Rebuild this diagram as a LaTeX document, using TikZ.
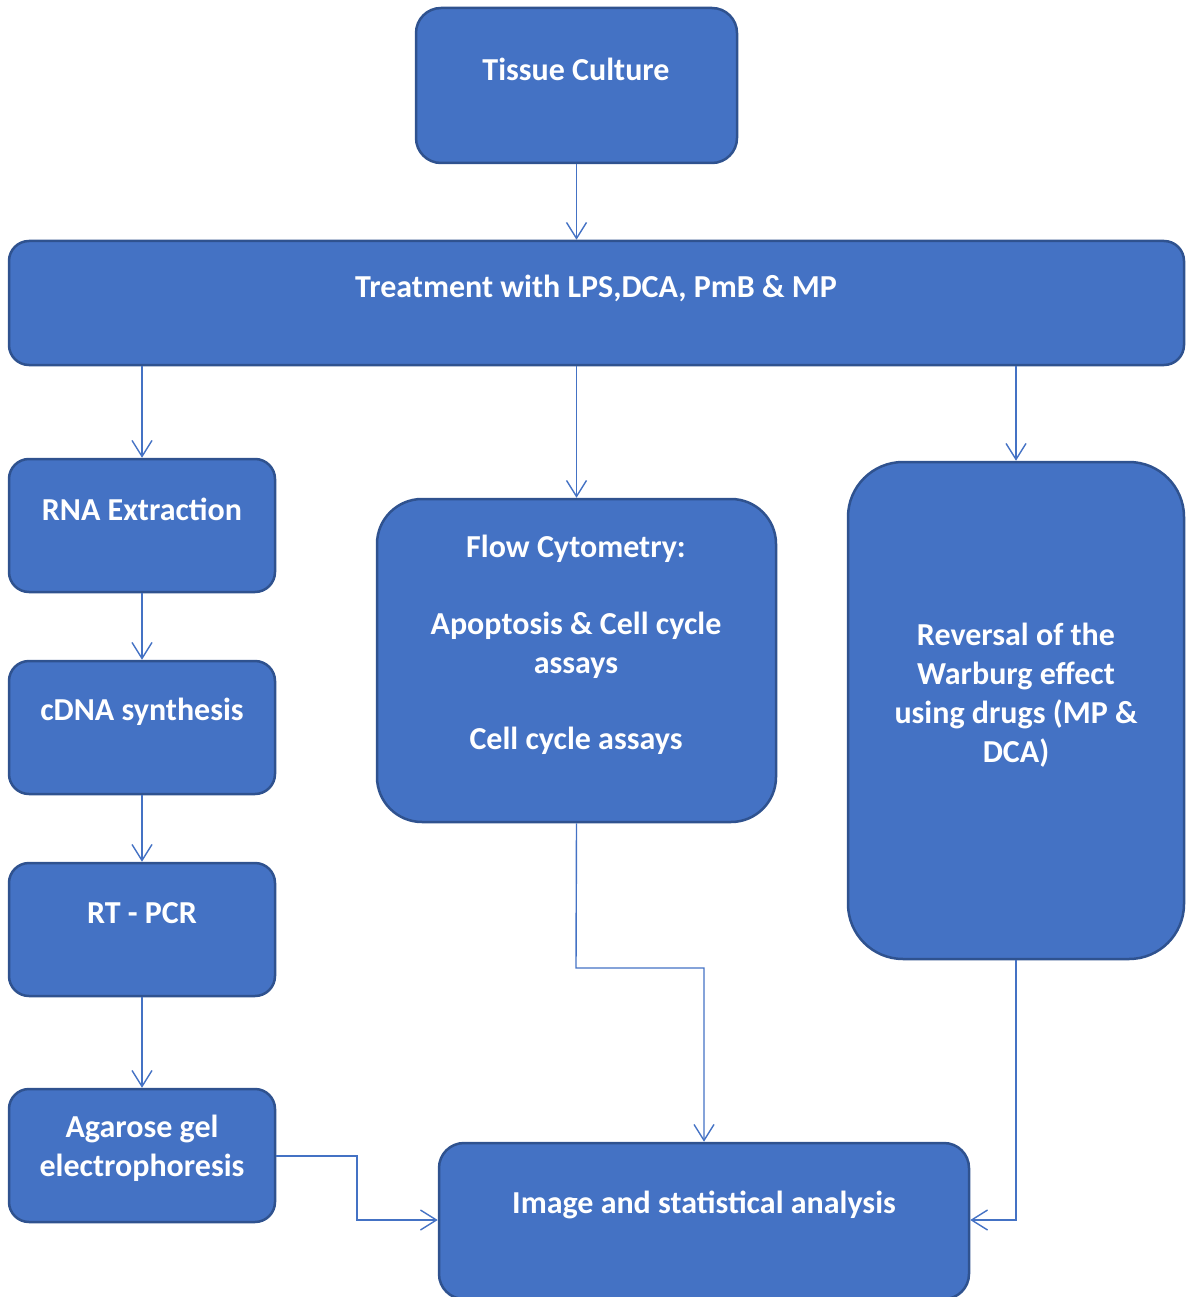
\documentclass[tikz,border=0pt]{standalone}
\usepackage{fontspec}
\setmainfont{Carlito}
\usetikzlibrary{arrows.meta}
\definecolor{boxfill}{HTML}{4472C4}
\definecolor{boxline}{HTML}{2F528F}
\definecolor{conn}{HTML}{4472C4}
\tikzset{
  box/.style={draw=boxline, fill=boxfill, line width=2.5pt, rectangle, inner sep=0pt},
  txt/.style={text=white, font=\fontsize{32}{39}\selectfont\bfseries, align=center, inner sep=0pt},
  conn/.style={draw=conn, line width=1.4pt, -{Straight Barb[length=16pt,width=20pt,line width=1.4pt]}},
}
\begin{document}
\begin{tikzpicture}[x=1pt,y=-1pt]
\useasboundingbox (0,0) rectangle (1193,1297);
% boxes
\node[box, rounded corners=25pt, minimum width=321pt, minimum height=155pt] (tc) at (576.5,85.5) {};
\node[box, rounded corners=20pt, minimum width=1175pt, minimum height=124pt] (tr) at (596.5,303) {};
\node[box, rounded corners=20pt, minimum width=266pt, minimum height=133pt] (rna) at (142,525.5) {};
\node[box, rounded corners=20pt, minimum width=266pt, minimum height=133pt] (cdna) at (142,727.5) {};
\node[box, rounded corners=20pt, minimum width=266pt, minimum height=133pt] (rt) at (142,929.5) {};
\node[box, rounded corners=20pt, minimum width=266pt, minimum height=133pt] (ag) at (142,1155.5) {};
\node[box, rounded corners=45pt, minimum width=399pt, minimum height=323pt] (fc) at (576.5,660.5) {};
\node[box, rounded corners=55pt, minimum width=336pt, minimum height=497pt] (rv) at (1016,710.5) {};
\node[box, rounded corners=25pt, minimum width=530pt, minimum height=156pt] (im) at (704,1221) {};
% texts
\node[txt] (tct) at (576,69) {Tissue Culture};
\node[txt] (trt) at (596,288) {Treatment with LPS,DCA, PmB \& MP};
\node[txt] (rnat) at (142,509.5) {RNA Extraction};
\node[txt] (cdnat) at (142,712) {cDNA synthesis};
\node[txt] (rtt) at (142,913.5) {RT - PCR};
\node[txt] (agt) at (142,1148) {Agarose gel\\electrophoresis};
\node[txt] (fct1) at (576,549) {Flow Cytometry:};
\node[txt] (fct2) at (576,645.5) {Apoptosis \& Cell cycle\\assays};
\node[txt] (fct3) at (576,741) {Cell cycle assays};
\node[txt] (rvt) at (1016,695) {Reversal of the\\Warburg effect\\using drugs (MP \&\\DCA)};
\node[txt] (imt) at (704,1205) {Image and statistical analysis};
% connectors
\draw[conn] (tc.south) -- (tr.north -| tc.south);
\draw[conn] (tr.south -| rna.north) -- (rna.north);
\draw[conn] (tr.south -| fc.north) -- (fc.north);
\draw[conn] (tr.south -| rv.north) -- (rv.north);
\draw[conn] (rna.south) -- (cdna.north);
\draw[conn] (cdna.south) -- (rt.north);
\draw[conn] (rt.south) -- (ag.north);
\coordinate (a1) at (357,1156);
\coordinate (a2) at (357,1220);
\draw[conn] (ag.east |- a1) -- (a1) -- (a2) -- (im.west |- a2);
\coordinate (f1) at (576,968);
\coordinate (f2) at (704,968);
\draw[conn] (fc.south) -- (f1) -- (f2) -- (im.north -| f2);
\coordinate (r1) at (1016,1220);
\draw[conn] (rv.south) -- (r1) -- (im.east |- r1);
\end{tikzpicture}
\end{document}
